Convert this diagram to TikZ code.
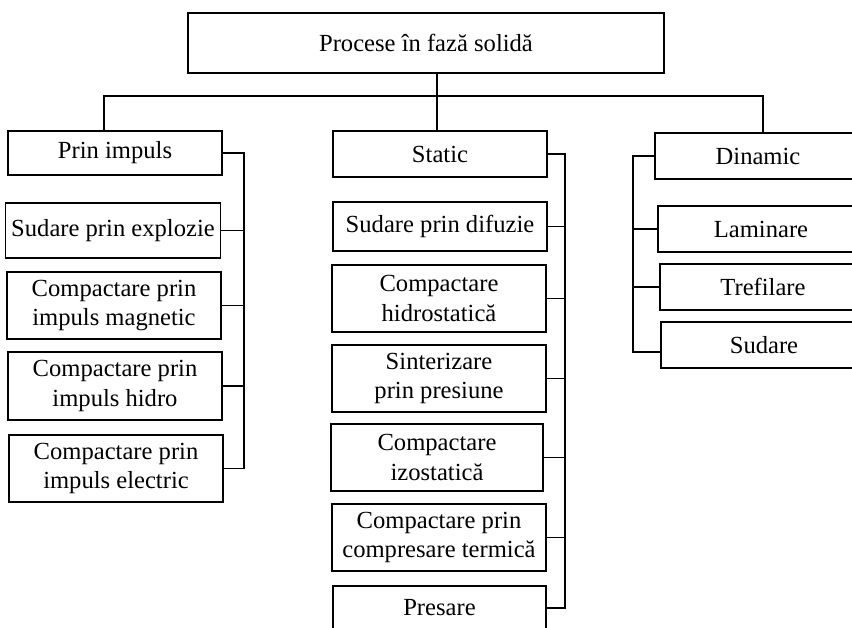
\documentclass[tikz,border=0pt]{standalone}
\usepackage{fontspec}
\setmainfont{Liberation Serif}

\begin{document}
\begin{tikzpicture}[thick, x=0.02cm, y=-0.02cm]

    \tikzset{block/.style={%
      draw,%
      rectangle,%
      align=center,%
      inner sep=2pt,%
      font=\fontsize{14}{17}\selectfont,%
      minimum width=4.28cm,%
      minimum height=0.9cm}%
    };

    \tikzset{tallblock/.style={block, minimum height=1.34cm}};
    \tikzset{sideblock/.style={block, minimum width=4.12cm, minimum height=0.92cm}};

    \useasboundingbox (0, 0) rectangle (852, 627);

    %%%%%%%%%%%%%%%
    %    top      %
    %%%%%%%%%%%%%%%
    \path (426, 43) node [block, minimum width=9.52cm, minimum height=1.2cm] (top) {Procese în fază solidă};

    %%%%%%%%%%%%%%%
    %  prin impuls %
    %%%%%%%%%%%%%%%
    \path (115, 153) node [block, minimum height=0.88cm] (imp) {Prin impuls};
    \path (113, 230.5) node [block, minimum width=4.3cm, minimum height=1.1cm] (expl) {Sudare prin explozie};
    \path (114, 305.5) node [tallblock] (magn) {Compactare prin\\impuls magnetic};
    \path (115, 386) node [tallblock, minimum height=1.36cm] (hidr) {Compactare prin\\impuls hidro};
    \path (116, 468.5) node [tallblock] (elec) {Compactare prin\\impuls electric};

    %%%%%%%%%%%%%%%
    %   static    %
    %%%%%%%%%%%%%%%
    \path (440, 154) node [block, minimum height=0.92cm] (sta) {Static};
    \path (440, 226.5) node [block, minimum height=0.98cm] (difu) {Sudare prin difuzie};
    \path (439, 298.5) node [tallblock] (hst) {Compactare\\hidrostatică};
    \path (439, 378.5) node [tallblock] (sint) {Sinterizare\\prin presiune};
    \path (437, 457.5) node [tallblock, minimum width=4.24cm] (izo) {Compactare\\izostatică};
    \path (439, 537.5) node [tallblock] (term) {Compactare prin\\compresare termică};
    \path (439.5, 608) node [block, minimum width=4.26cm, minimum height=0.88cm] (pres) {Presare};

    %%%%%%%%%%%%%%%
    %   dinamic   %
    %%%%%%%%%%%%%%%
    \path (758, 156) node [sideblock] (din) {Dinamic};
    \path (761, 229) node [sideblock] (lam) {Laminare};
    \path (763, 287) node [sideblock] (tref) {Trefilare};
    \path (764, 345) node [sideblock] (sud) {Sudare};

    % bus lines
    \coordinate (bus) at (104, 96);
    \coordinate (lsp) at (244, 0);
    \coordinate (msp) at (565, 0);
    \coordinate (rsp) at (633, 0);

    \draw (top.south -| 437, 0) -- (sta.north -| 437, 0);
    \draw (bus |- imp.north) -- (bus) -- (bus -| 763, 0) -- (din.north -| 763, 0);

    \draw (imp.east) -| (lsp |- elec.east) -- (elec.east);
    \draw (expl.east) -- (expl.east -| lsp);
    \draw (magn.east) -- (magn.east -| lsp);
    \draw (hidr.east) -- (hidr.east -| lsp);

    \draw (sta.east) -| (msp |- pres.east) -- (pres.east);
    \draw (difu.east) -- (difu.east -| msp);
    \draw (hst.east) -- (hst.east -| msp);
    \draw (sint.east) -- (sint.east -| msp);
    \draw (izo.east) -- (izo.east -| msp);
    \draw (term.east) -- (term.east -| msp);

    \draw (din.west) -| (rsp |- 0, 352) -- (sud.west |- 0, 352);
    \draw (lam.west) -- (lam.west -| rsp);
    \draw (tref.west) -- (tref.west -| rsp);

  \end{tikzpicture}
\end{document}
